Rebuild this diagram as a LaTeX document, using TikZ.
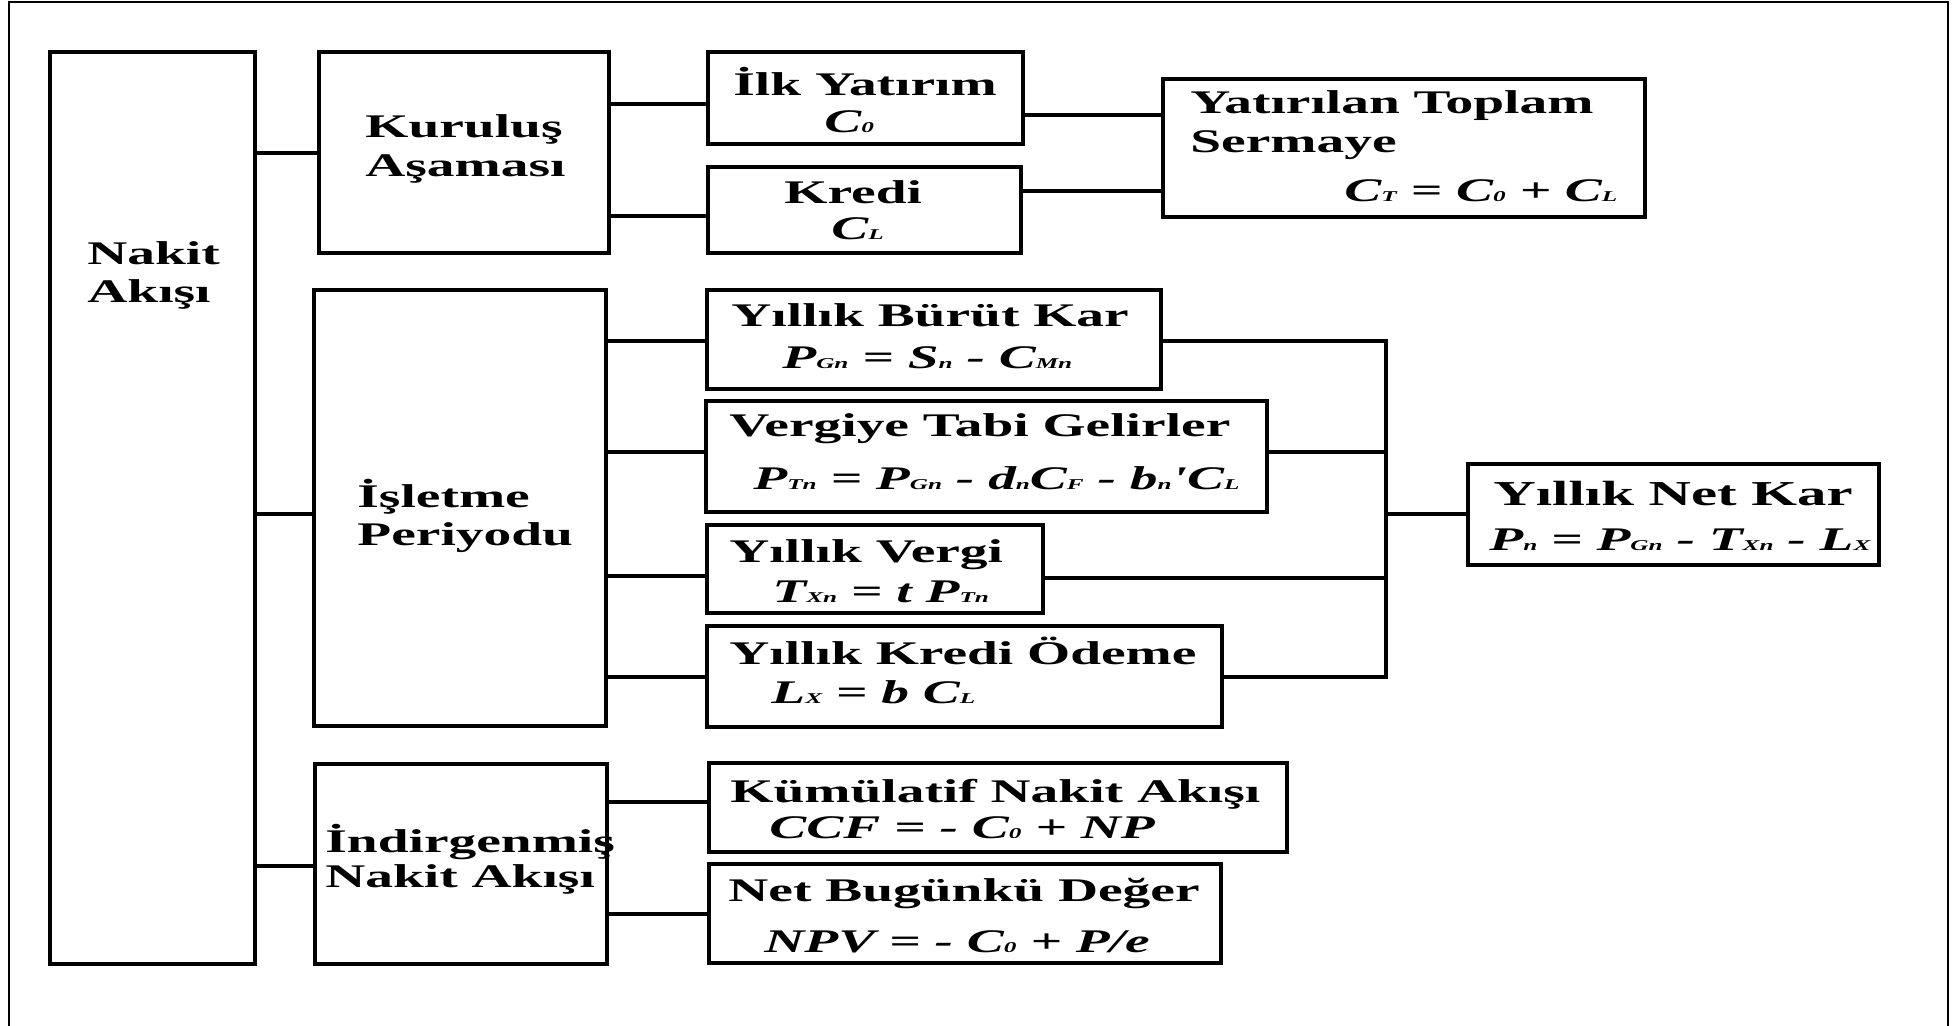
\documentclass[tikz,border=0pt]{standalone}
\usepackage{fontspec}
\setmainfont{Liberation Serif}[FakeStretch=1.68, Ligatures=TeXOff]
\usetikzlibrary{fit}
\newcommand{\sbs}[1]{{\fontsize{7.5}{8}\selectfont #1}}
\begin{document}
\begin{tikzpicture}[x=0.5pt,y=-0.5pt,
  box/.style={draw, line width=2pt, inner sep=0pt},
  conn/.style={line width=1.6pt, line join=miter},
  frame/.style={line width=1pt},
  ttl/.style={inner sep=0pt, anchor=base west, font=\fontsize{16.5}{18}\selectfont\bfseries},
  frm/.style={inner sep=0pt, anchor=base west, font=\fontsize{16.5}{18}\selectfont\bfseries\itshape}]
\useasboundingbox (0,0) rectangle (1959,1026);
\fill[white] (0,0) rectangle (1959,1026);
\draw[frame] (9,1026) -- (9,2) -- (1948,2) -- (1948,1026);

% boxes
\node[box, fit={(50,52)(255,964)}] (nakit) {};
\node[box, fit={(319,52)(609,253)}] (kur) {};
\node[box, fit={(708,52)(1023,144)}] (ilk) {};
\node[box, fit={(708,167)(1021,253)}] (kredi) {};
\node[box, fit={(1163,79)(1645,217)}] (top) {};
\node[box, fit={(314,290)(606,726)}] (isl) {};
\node[box, fit={(707,290)(1161,389)}] (brt) {};
\node[box, fit={(706,401)(1267,512)}] (vtg) {};
\node[box, fit={(707,525)(1043,613)}] (vrg) {};
\node[box, fit={(707,626)(1222,727)}] (ode) {};
\node[box, fit={(1468,464)(1879,565)}] (net) {};
\node[box, fit={(315,764)(607,964)}] (ind) {};
\node[box, fit={(709,763)(1287,852)}] (kum) {};
\node[box, fit={(709,864)(1221,963)}] (npv) {};

% connectors
\draw[conn] (nakit.east |- 0,153) -- (kur.west |- 0,153);
\draw[conn] (nakit.east |- 0,514) -- (isl.west |- 0,514);
\draw[conn] (nakit.east |- 0,866) -- (ind.west |- 0,866);
\draw[conn] (kur.east |- 0,104) -- (ilk.west |- 0,104);
\draw[conn] (kur.east |- 0,216) -- (kredi.west |- 0,216);
\draw[conn] (ilk.east |- 0,115) -- (top.west |- 0,115);
\draw[conn] (kredi.east |- 0,191) -- (top.west |- 0,191);
\draw[conn] (isl.east |- 0,341) -- (brt.west |- 0,341);
\draw[conn] (isl.east |- 0,452) -- (vtg.west |- 0,452);
\draw[conn] (isl.east |- 0,576) -- (vrg.west |- 0,576);
\draw[conn] (isl.east |- 0,677) -- (ode.west |- 0,677);
\coordinate (bus) at (1386,514);
\draw[conn] (brt.east |- 0,341) -- (bus |- 0,341) -- (bus |- 0,677) -- (ode.east |- 0,677);
\draw[conn] (vtg.east |- 0,452) -- (bus |- 0,452);
\draw[conn] (vrg.east |- 0,578) -- (bus |- 0,578);
\draw[conn] (bus) -- (net.west |- bus);
\draw[conn] (ind.east |- 0,802) -- (kum.west |- 0,802);
\draw[conn] (ind.east |- 0,914) -- (npv.west |- 0,914);

% texts
\node[ttl] (t1a) at (87,265) {Nakit};
\node[ttl] (t1b) at (87,303) {Akışı};
\node[ttl] (t2a) at (365,138) {Kuruluş};
\node[ttl] (t2b) at (365,177) {Aşaması};
\node[ttl] (t3a) at (733,96) {İlk Yatırım};
\node[frm] (t3b) at (824,133) {C\sbs{0}};
\node[ttl] (t4a) at (784,204) {Kredi};
\node[frm] (t4b) at (831,240) {C\sbs{L}};
\node[ttl] (t5a) at (1190,114) {Yatırılan Toplam};
\node[ttl] (t5b) at (1190,153) {Sermaye};
\node[frm] (t5c) at (1344,202) {C\sbs{T} = C\sbs{0} + C\sbs{L}};
\node[ttl] (t6a) at (357,507) {İşletme};
\node[ttl] (t6b) at (357,545) {Periyodu};
\node[ttl] (t7a) at (731,327) {Yıllık Bürüt Kar};
\node[frm] (t7b) at (782,369) {P\sbs{Gn} = S\sbs{n} - C\sbs{Mn}};
\node[ttl] (t8a) at (729,437) {Vergiye Tabi Gelirler};
\node[frm] (t8b) at (753,489) {P\sbs{Tn} = P\sbs{Gn} - d\sbs{n}C\sbs{F} - b\sbs{n}'C\sbs{L}};
\node[ttl] (t9a) at (729,562) {Yıllık Vergi};
\node[frm] (t9b) at (772,602) {T\sbs{Xn} = t P\sbs{Tn}};
\node[ttl] (t10a) at (729,664) {Yıllık Kredi Ödeme};
\node[frm] (t10b) at (771,703) {L\sbs{X} = b C\sbs{L}};
\node[ttl, font=\fontsize{17.5}{19}\selectfont\bfseries] (t11a) at (1493,505) {Yıllık Net Kar};
\node[frm] (t11b) at (1489,550) {P\sbs{n} = P\sbs{Gn} - T\sbs{Xn} - L\sbs{X}};
\node[ttl] (t12a) at (325,852) {İndirgenmiş};
\node[ttl] (t12b) at (325,887) {Nakit Akışı};
\node[ttl] (t13a) at (730,802) {Kümülatif Nakit Akışı};
\node[frm] (t13b) at (769,838) {CCF = - C\sbs{0} + NP};
\node[ttl] (t14a) at (728,901) {Net Bugünkü Değer};
\node[frm] (t14b) at (764,952) {NPV = - C\sbs{0} + P/e};
\end{tikzpicture}
\end{document}
